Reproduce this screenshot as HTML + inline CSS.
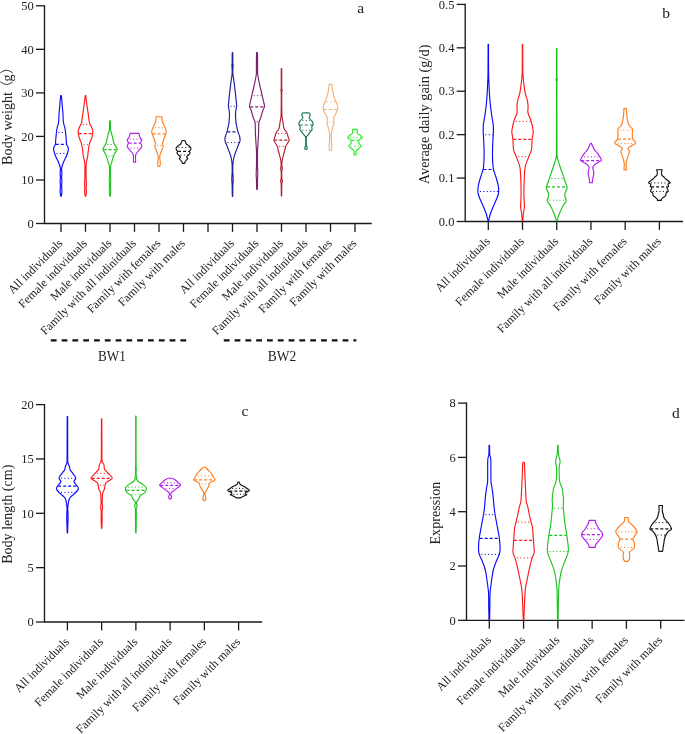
<!DOCTYPE html>
<html><head><meta charset="utf-8"><style>
html,body{margin:0;padding:0;background:#fff;overflow:hidden;}
svg{display:block;will-change:transform;}
text{font-family:"Liberation Serif", serif;}
</style></head><body>
<svg width="685" height="734" viewBox="0 0 685 734">
<rect width="685" height="734" fill="#fff"/>
<path d="M44.5 5.2 V223.5 H371.8" fill="none" stroke="#1a1a1a" stroke-width="1.35"/>
<line x1="36" y1="223.5" x2="44.5" y2="223.5" stroke="#1a1a1a" stroke-width="1.3"/>
<text x="33.7" y="227.7" text-anchor="end" font-size="12.5" fill="#222">0</text>
<line x1="36" y1="179.96" x2="44.5" y2="179.96" stroke="#1a1a1a" stroke-width="1.3"/>
<text x="33.7" y="184.16" text-anchor="end" font-size="12.5" fill="#222">10</text>
<line x1="36" y1="136.42" x2="44.5" y2="136.42" stroke="#1a1a1a" stroke-width="1.3"/>
<text x="33.7" y="140.62" text-anchor="end" font-size="12.5" fill="#222">20</text>
<line x1="36" y1="92.88" x2="44.5" y2="92.88" stroke="#1a1a1a" stroke-width="1.3"/>
<text x="33.7" y="97.08" text-anchor="end" font-size="12.5" fill="#222">30</text>
<line x1="36" y1="49.34" x2="44.5" y2="49.34" stroke="#1a1a1a" stroke-width="1.3"/>
<text x="33.7" y="53.54" text-anchor="end" font-size="12.5" fill="#222">40</text>
<line x1="36" y1="5.8" x2="44.5" y2="5.8" stroke="#1a1a1a" stroke-width="1.3"/>
<text x="33.7" y="10" text-anchor="end" font-size="12.5" fill="#222">50</text>
<line x1="61" y1="223.5" x2="61" y2="231.9" stroke="#1a1a1a" stroke-width="1.3"/>
<line x1="85.5" y1="223.5" x2="85.5" y2="231.9" stroke="#1a1a1a" stroke-width="1.3"/>
<line x1="110" y1="223.5" x2="110" y2="231.9" stroke="#1a1a1a" stroke-width="1.3"/>
<line x1="134.5" y1="223.5" x2="134.5" y2="231.9" stroke="#1a1a1a" stroke-width="1.3"/>
<line x1="159" y1="223.5" x2="159" y2="231.9" stroke="#1a1a1a" stroke-width="1.3"/>
<line x1="183.5" y1="223.5" x2="183.5" y2="231.9" stroke="#1a1a1a" stroke-width="1.3"/>
<line x1="208" y1="223.5" x2="208" y2="231.9" stroke="#1a1a1a" stroke-width="1.3"/>
<line x1="232.5" y1="223.5" x2="232.5" y2="231.9" stroke="#1a1a1a" stroke-width="1.3"/>
<line x1="257" y1="223.5" x2="257" y2="231.9" stroke="#1a1a1a" stroke-width="1.3"/>
<line x1="281.5" y1="223.5" x2="281.5" y2="231.9" stroke="#1a1a1a" stroke-width="1.3"/>
<line x1="306" y1="223.5" x2="306" y2="231.9" stroke="#1a1a1a" stroke-width="1.3"/>
<line x1="330.5" y1="223.5" x2="330.5" y2="231.9" stroke="#1a1a1a" stroke-width="1.3"/>
<line x1="355" y1="223.5" x2="355" y2="231.9" stroke="#1a1a1a" stroke-width="1.3"/>
<text transform="translate(63.4 243.9) rotate(-45)" text-anchor="end" font-size="12.0" fill="#222">All individuals</text>
<text transform="translate(87.9 243.9) rotate(-45)" text-anchor="end" font-size="12.0" fill="#222">Female individuals</text>
<text transform="translate(112.4 243.9) rotate(-45)" text-anchor="end" font-size="12.0" fill="#222">Male individuals</text>
<text transform="translate(136.9 243.9) rotate(-45)" text-anchor="end" font-size="12.0" fill="#222">Family with all indiniduals</text>
<text transform="translate(161.4 243.9) rotate(-45)" text-anchor="end" font-size="12.0" fill="#222">Family with females</text>
<text transform="translate(185.9 243.9) rotate(-45)" text-anchor="end" font-size="12.0" fill="#222">Family with males</text>
<text transform="translate(234.9 243.9) rotate(-45)" text-anchor="end" font-size="12.0" fill="#222">All individuals</text>
<text transform="translate(259.4 243.9) rotate(-45)" text-anchor="end" font-size="12.0" fill="#222">Female individuals</text>
<text transform="translate(283.9 243.9) rotate(-45)" text-anchor="end" font-size="12.0" fill="#222">Male individuals</text>
<text transform="translate(308.4 243.9) rotate(-45)" text-anchor="end" font-size="12.0" fill="#222">Family with all indiniduals</text>
<text transform="translate(332.9 243.9) rotate(-45)" text-anchor="end" font-size="12.0" fill="#222">Family with females</text>
<text transform="translate(357.4 243.9) rotate(-45)" text-anchor="end" font-size="12.0" fill="#222">Family with males</text>
<text transform="translate(11.8 164.9) rotate(-90)" font-size="14.2" fill="#222">Body weight</text>
<text transform="translate(11.8 81.6) rotate(-90)" font-size="14.2" fill="#222">g</text>
<path d="M0.3 72.9 Q6.5 67.6 12.7 72.9" fill="none" stroke="#2a2a2a" stroke-width="0.95"/>
<path d="M0.3 81.7 Q6.5 87.1 12.7 81.9" fill="none" stroke="#2a2a2a" stroke-width="0.95"/>
<path d="M61.3 95.6 C61.38 96.33 61.65 98.35 61.8 100 C61.95 101.65 62 103.08 62.2 105.5 C62.4 107.92 62.83 112.08 63 114.5 C63.17 116.92 63.07 118.38 63.2 120 C63.33 121.62 63.52 122.87 63.8 124.2 C64.08 125.53 64.62 126.7 64.9 128 C65.18 129.3 65.32 130.5 65.5 132 C65.68 133.5 65.87 135.67 66 137 C66.13 138.33 66.2 138.77 66.3 140 C66.4 141.23 66.35 143.32 66.6 144.4 C66.85 145.48 67.5 145.73 67.8 146.5 C68.1 147.27 68.35 148.25 68.4 149 C68.45 149.75 68.27 150.25 68.1 151 C67.93 151.75 67.8 152.37 67.4 153.5 C67 154.63 66.37 156.3 65.7 157.8 C65.03 159.3 64.05 160.92 63.4 162.5 C62.75 164.08 62.1 166.05 61.8 167.3 C61.5 168.55 61.58 168.95 61.6 170 C61.62 171.05 61.9 172.43 61.9 173.6 C61.9 174.77 61.6 175.68 61.6 177 C61.6 178.32 61.9 180 61.9 181.5 C61.9 183 61.6 184.28 61.6 186 C61.6 187.72 61.95 190.12 61.9 191.8 C61.85 193.48 61.4 195.38 61.3 196.1 L60.7 196.1 C60.6 195.38 60.15 193.48 60.1 191.8 C60.05 190.12 60.4 187.72 60.4 186 C60.4 184.28 60.1 183 60.1 181.5 C60.1 180 60.4 178.32 60.4 177 C60.4 175.68 60.1 174.77 60.1 173.6 C60.1 172.43 60.38 171.05 60.4 170 C60.42 168.95 60.5 168.55 60.2 167.3 C59.9 166.05 59.25 164.08 58.6 162.5 C57.95 160.92 56.97 159.3 56.3 157.8 C55.63 156.3 55 154.63 54.6 153.5 C54.2 152.37 54.07 151.75 53.9 151 C53.73 150.25 53.55 149.75 53.6 149 C53.65 148.25 53.9 147.27 54.2 146.5 C54.5 145.73 55.15 145.48 55.4 144.4 C55.65 143.32 55.6 141.23 55.7 140 C55.8 138.77 55.87 138.33 56 137 C56.13 135.67 56.32 133.5 56.5 132 C56.68 130.5 56.82 129.3 57.1 128 C57.38 126.7 57.92 125.53 58.2 124.2 C58.48 122.87 58.67 121.62 58.8 120 C58.93 118.38 58.83 116.92 59 114.5 C59.17 112.08 59.6 107.92 59.8 105.5 C60 103.08 60.05 101.65 60.2 100 C60.35 98.35 60.62 96.33 60.7 95.6 Z" fill="none" stroke="#0a0aff" stroke-width="1.15" stroke-linejoin="round"/>
<line x1="56.85" y1="132.5" x2="65.15" y2="132.5" stroke="#0a0aff" stroke-width="1" stroke-dasharray="1.1 2.3" stroke-dashoffset="-1.5"/>
<line x1="55.8" y1="144.4" x2="66.2" y2="144.4" stroke="#0a0aff" stroke-width="1.2" stroke-dasharray="3 2"/>
<line x1="54.97" y1="153.4" x2="67.03" y2="153.4" stroke="#0a0aff" stroke-width="1" stroke-dasharray="1.1 2.3" stroke-dashoffset="-1.5"/>
<path d="M85.8 95.5 C85.88 96.25 86.07 98.08 86.3 100 C86.53 101.92 86.87 104.58 87.2 107 C87.53 109.42 88 112.33 88.3 114.5 C88.6 116.67 88.77 118.5 89 120 C89.23 121.5 89.27 122.3 89.7 123.5 C90.13 124.7 91.08 125.95 91.6 127.2 C92.12 128.45 92.63 129.87 92.8 131 C92.97 132.13 92.73 133 92.6 134 C92.47 135 92.28 136 92 137 C91.72 138 91.23 139.17 90.9 140 C90.57 140.83 90.27 141.25 90 142 C89.73 142.75 89.57 143.18 89.3 144.5 C89.03 145.82 88.67 147.95 88.4 149.9 C88.13 151.85 88 154.35 87.7 156.2 C87.4 158.05 86.87 159.42 86.6 161 C86.33 162.58 86.18 163.87 86.1 165.7 C86.02 167.53 86.1 169.95 86.1 172 C86.1 174.05 86.05 176.17 86.1 178 C86.15 179.83 86.38 181.33 86.4 183 C86.42 184.67 86.2 186.5 86.2 188 C86.2 189.5 86.47 190.65 86.4 192 C86.33 193.35 85.9 195.42 85.8 196.1 L85.2 196.1 C85.1 195.42 84.67 193.35 84.6 192 C84.53 190.65 84.8 189.5 84.8 188 C84.8 186.5 84.58 184.67 84.6 183 C84.62 181.33 84.85 179.83 84.9 178 C84.95 176.17 84.9 174.05 84.9 172 C84.9 169.95 84.98 167.53 84.9 165.7 C84.82 163.87 84.67 162.58 84.4 161 C84.13 159.42 83.6 158.05 83.3 156.2 C83 154.35 82.87 151.85 82.6 149.9 C82.33 147.95 81.97 145.82 81.7 144.5 C81.43 143.18 81.27 142.75 81 142 C80.73 141.25 80.43 140.83 80.1 140 C79.77 139.17 79.28 138 79 137 C78.72 136 78.53 135 78.4 134 C78.27 133 78.03 132.13 78.2 131 C78.37 129.87 78.88 128.45 79.4 127.2 C79.92 125.95 80.87 124.7 81.3 123.5 C81.73 122.3 81.77 121.5 82 120 C82.23 118.5 82.4 116.67 82.7 114.5 C83 112.33 83.47 109.42 83.8 107 C84.13 104.58 84.47 101.92 84.7 100 C84.93 98.08 85.12 96.25 85.2 95.5 Z" fill="none" stroke="#ff1a1a" stroke-width="1.15" stroke-linejoin="round"/>
<line x1="81.24" y1="124.4" x2="89.76" y2="124.4" stroke="#ff1a1a" stroke-width="1" stroke-dasharray="1.1 2.3" stroke-dashoffset="-1.5"/>
<line x1="78.77" y1="133.6" x2="92.23" y2="133.6" stroke="#ff1a1a" stroke-width="1.2" stroke-dasharray="3 2"/>
<line x1="82.13" y1="144.7" x2="88.87" y2="144.7" stroke="#ff1a1a" stroke-width="1" stroke-dasharray="1.1 2.3" stroke-dashoffset="-1.5"/>
<path d="M110.3 120.7 C110.33 121.42 110.45 123.45 110.5 125 C110.55 126.55 110.32 128.2 110.6 130 C110.88 131.8 111.67 133.67 112.2 135.8 C112.73 137.93 113.27 141.1 113.8 142.8 C114.33 144.5 114.85 144.95 115.4 146 C115.95 147.05 117 148.18 117.1 149.1 C117.2 150.02 116.48 150.62 116 151.5 C115.52 152.38 114.87 152.77 114.2 154.4 C113.53 156.03 112.6 159.28 112 161.3 C111.4 163.32 110.85 164.22 110.6 166.5 C110.35 168.78 110.48 172.75 110.5 175 C110.52 177.25 110.7 178.33 110.7 180 C110.7 181.67 110.5 183.17 110.5 185 C110.5 186.83 110.73 189.13 110.7 191 C110.67 192.87 110.37 195.33 110.3 196.2 L109.7 196.2 C109.63 195.33 109.33 192.87 109.3 191 C109.27 189.13 109.5 186.83 109.5 185 C109.5 183.17 109.3 181.67 109.3 180 C109.3 178.33 109.48 177.25 109.5 175 C109.52 172.75 109.65 168.78 109.4 166.5 C109.15 164.22 108.6 163.32 108 161.3 C107.4 159.28 106.47 156.03 105.8 154.4 C105.13 152.77 104.48 152.38 104 151.5 C103.52 150.62 102.8 150.02 102.9 149.1 C103 148.18 104.05 147.05 104.6 146 C105.15 144.95 105.67 144.5 106.2 142.8 C106.73 141.1 107.27 137.93 107.8 135.8 C108.33 133.67 109.12 131.8 109.4 130 C109.68 128.2 109.45 126.55 109.5 125 C109.55 123.45 109.67 121.42 109.7 120.7 Z" fill="none" stroke="#1ec41e" stroke-width="1.15" stroke-linejoin="round"/>
<line x1="105.75" y1="144.5" x2="114.25" y2="144.5" stroke="#1ec41e" stroke-width="1" stroke-dasharray="1.1 2.3" stroke-dashoffset="-1.5"/>
<line x1="103.58" y1="149.7" x2="116.42" y2="149.7" stroke="#1ec41e" stroke-width="1.2" stroke-dasharray="3 2"/>
<line x1="106.74" y1="156.1" x2="113.26" y2="156.1" stroke="#1ec41e" stroke-width="1" stroke-dasharray="1.1 2.3" stroke-dashoffset="-1.5"/>
<path d="M138.8 133.3 C138.88 133.58 139.13 134.38 139.3 135 C139.47 135.62 139.38 136.18 139.8 137 C140.22 137.82 141.58 139.15 141.8 139.9 C142.02 140.65 141.28 140.92 141.1 141.5 C140.92 142.08 140.58 142.6 140.7 143.4 C140.82 144.2 142 145.25 141.8 146.3 C141.6 147.35 140.38 148.55 139.5 149.7 C138.62 150.85 137.15 152.23 136.5 153.2 C135.85 154.17 135.77 154.7 135.6 155.5 C135.43 156.3 135.5 157.08 135.5 158 C135.5 158.92 135.6 160.3 135.6 161 C135.6 161.7 135.52 162 135.5 162.2 L133.5 162.2 C133.48 162 133.4 161.7 133.4 161 C133.4 160.3 133.5 158.92 133.5 158 C133.5 157.08 133.57 156.3 133.4 155.5 C133.23 154.7 133.15 154.17 132.5 153.2 C131.85 152.23 130.38 150.85 129.5 149.7 C128.62 148.55 127.4 147.35 127.2 146.3 C127 145.25 128.18 144.2 128.3 143.4 C128.42 142.6 128.08 142.08 127.9 141.5 C127.72 140.92 126.98 140.65 127.2 139.9 C127.42 139.15 128.78 137.82 129.2 137 C129.62 136.18 129.53 135.62 129.7 135 C129.87 134.38 130.12 133.58 130.2 133.3 Z" fill="none" stroke="#b21fe8" stroke-width="1.15" stroke-linejoin="round"/>
<line x1="128.15" y1="139.1" x2="140.85" y2="139.1" stroke="#b21fe8" stroke-width="1" stroke-dasharray="1.1 2.3" stroke-dashoffset="-1.5"/>
<line x1="128.64" y1="143.1" x2="140.36" y2="143.1" stroke="#b21fe8" stroke-width="1.2" stroke-dasharray="3 2"/>
<line x1="128.75" y1="148" x2="140.25" y2="148" stroke="#b21fe8" stroke-width="1" stroke-dasharray="1.1 2.3" stroke-dashoffset="-1.5"/>
<path d="M162 116.7 C162 117.17 161.95 118.7 162 119.5 C162.05 120.3 162.05 120.7 162.3 121.5 C162.55 122.3 163.02 123.22 163.5 124.3 C163.98 125.38 164.75 126.88 165.2 128 C165.65 129.12 166.1 130.02 166.2 131 C166.3 131.98 166.17 132.63 165.8 133.9 C165.43 135.17 164.53 137.1 164 138.6 C163.47 140.1 162.77 141.75 162.6 142.9 C162.43 144.05 162.93 144.78 163 145.5 C163.07 146.22 163.32 146.12 163 147.2 C162.68 148.28 161.63 150.57 161.1 152 C160.57 153.43 160 154.63 159.8 155.8 C159.6 156.97 159.82 157.73 159.9 159 C159.98 160.27 160.3 162.18 160.3 163.4 C160.3 164.62 159.97 165.82 159.9 166.3 L158.1 166.3 C158.03 165.82 157.7 164.62 157.7 163.4 C157.7 162.18 158.02 160.27 158.1 159 C158.18 157.73 158.4 156.97 158.2 155.8 C158 154.63 157.43 153.43 156.9 152 C156.37 150.57 155.32 148.28 155 147.2 C154.68 146.12 154.93 146.22 155 145.5 C155.07 144.78 155.57 144.05 155.4 142.9 C155.23 141.75 154.53 140.1 154 138.6 C153.47 137.1 152.57 135.17 152.2 133.9 C151.83 132.63 151.7 131.98 151.8 131 C151.9 130.02 152.35 129.12 152.8 128 C153.25 126.88 154.02 125.38 154.5 124.3 C154.98 123.22 155.45 122.3 155.7 121.5 C155.95 120.7 155.95 120.3 156 119.5 C156.05 118.7 156 117.17 156 116.7 Z" fill="none" stroke="#ff7f1e" stroke-width="1.15" stroke-linejoin="round"/>
<line x1="153.34" y1="127.7" x2="164.66" y2="127.7" stroke="#ff7f1e" stroke-width="1" stroke-dasharray="1.1 2.3" stroke-dashoffset="-1.5"/>
<line x1="152.6" y1="133.9" x2="165.4" y2="133.9" stroke="#ff7f1e" stroke-width="1.2" stroke-dasharray="3 2"/>
<line x1="155.4" y1="145.5" x2="162.6" y2="145.5" stroke="#ff7f1e" stroke-width="1" stroke-dasharray="1.1 2.3" stroke-dashoffset="-1.5"/>
<path d="M184.8 140.5 C184.9 140.7 185.13 141.1 185.4 141.7 C185.67 142.3 185.82 143.43 186.4 144.1 C186.98 144.77 188.22 145.17 188.9 145.7 C189.58 146.23 190.17 146.77 190.5 147.3 C190.83 147.83 190.97 148.38 190.9 148.9 C190.83 149.42 190.37 149.98 190.1 150.4 C189.83 150.82 189.3 151 189.3 151.4 C189.3 151.8 190.13 152.3 190.1 152.8 C190.07 153.3 189.57 153.87 189.1 154.4 C188.63 154.93 187.72 155.53 187.3 156 C186.88 156.47 186.53 156.78 186.6 157.2 C186.67 157.62 187.77 157.98 187.7 158.5 C187.63 159.02 186.65 159.73 186.2 160.3 C185.75 160.87 185.25 161.4 185 161.9 C184.75 162.4 184.75 163.07 184.7 163.3 L182.3 163.3 C182.25 163.07 182.25 162.4 182 161.9 C181.75 161.4 181.25 160.87 180.8 160.3 C180.35 159.73 179.37 159.02 179.3 158.5 C179.23 157.98 180.33 157.62 180.4 157.2 C180.47 156.78 180.12 156.47 179.7 156 C179.28 155.53 178.37 154.93 177.9 154.4 C177.43 153.87 176.93 153.3 176.9 152.8 C176.87 152.3 177.7 151.8 177.7 151.4 C177.7 151 177.17 150.82 176.9 150.4 C176.63 149.98 176.17 149.42 176.1 148.9 C176.03 148.38 176.17 147.83 176.5 147.3 C176.83 146.77 177.42 146.23 178.1 145.7 C178.78 145.17 180.02 144.77 180.6 144.1 C181.18 143.43 181.33 142.3 181.6 141.7 C181.87 141.1 182.1 140.7 182.2 140.5 Z" fill="none" stroke="#111111" stroke-width="1.15" stroke-linejoin="round"/>
<line x1="176.88" y1="147.4" x2="190.12" y2="147.4" stroke="#111111" stroke-width="1" stroke-dasharray="1.1 2.3" stroke-dashoffset="-1.5"/>
<line x1="178.1" y1="151.4" x2="188.9" y2="151.4" stroke="#111111" stroke-width="1.2" stroke-dasharray="3 2"/>
<line x1="178.97" y1="155" x2="188.03" y2="155" stroke="#111111" stroke-width="1" stroke-dasharray="1.1 2.3" stroke-dashoffset="-1.5"/>
<path d="M232.7 52.6 C232.72 53 232.78 53.43 232.8 55 C232.82 56.57 232.75 60.22 232.8 62 C232.85 63.78 233.1 64.37 233.1 65.7 C233.1 67.03 232.83 68.53 232.8 70 C232.78 71.47 232.72 72.3 232.95 74.5 C233.18 76.7 233.77 79.93 234.2 83.2 C234.62 86.47 235.13 90.83 235.5 94.1 C235.87 97.37 236.22 100.8 236.4 102.8 C236.58 104.8 236.68 104.9 236.6 106.1 C236.52 107.3 236.07 108.92 235.9 110 C235.73 111.08 235.67 111.77 235.6 112.6 C235.53 113.43 235.45 113.53 235.5 115 C235.55 116.47 235.73 119.67 235.9 121.4 C236.07 123.13 236.15 123.67 236.5 125.4 C236.85 127.13 237.5 130.03 238 131.8 C238.5 133.57 239.15 134.65 239.5 136 C239.85 137.35 240.12 138.82 240.1 139.9 C240.08 140.98 239.92 141.05 239.4 142.5 C238.88 143.95 237.88 146.23 237 148.6 C236.12 150.97 234.78 154.18 234.1 156.7 C233.42 159.22 233.17 161.15 232.95 163.7 C232.73 166.25 232.78 169.95 232.8 172 C232.83 174.05 233.03 174.67 233.1 176 C233.17 177.33 233.23 178.67 233.2 180 C233.17 181.33 232.97 182.33 232.9 184 C232.83 185.67 232.83 187.95 232.8 190 C232.77 192.05 232.72 195.25 232.7 196.3 L232.3 196.3 C232.28 195.25 232.23 192.05 232.2 190 C232.17 187.95 232.17 185.67 232.1 184 C232.03 182.33 231.83 181.33 231.8 180 C231.77 178.67 231.83 177.33 231.9 176 C231.97 174.67 232.17 174.05 232.2 172 C232.22 169.95 232.27 166.25 232.05 163.7 C231.83 161.15 231.58 159.22 230.9 156.7 C230.22 154.18 228.88 150.97 228 148.6 C227.12 146.23 226.12 143.95 225.6 142.5 C225.08 141.05 224.92 140.98 224.9 139.9 C224.88 138.82 225.15 137.35 225.5 136 C225.85 134.65 226.5 133.57 227 131.8 C227.5 130.03 228.15 127.13 228.5 125.4 C228.85 123.67 228.93 123.13 229.1 121.4 C229.27 119.67 229.45 116.47 229.5 115 C229.55 113.53 229.47 113.43 229.4 112.6 C229.33 111.77 229.27 111.08 229.1 110 C228.93 108.92 228.48 107.3 228.4 106.1 C228.32 104.9 228.42 104.8 228.6 102.8 C228.78 100.8 229.13 97.37 229.5 94.1 C229.87 90.83 230.38 86.47 230.8 83.2 C231.23 79.93 231.82 76.7 232.05 74.5 C232.28 72.3 232.22 71.47 232.2 70 C232.17 68.53 231.9 67.03 231.9 65.7 C231.9 64.37 232.15 63.78 232.2 62 C232.25 60.22 232.18 56.57 232.2 55 C232.22 53.43 232.28 53 232.3 52.6 Z" fill="none" stroke="#1f1f9c" stroke-width="1.15" stroke-linejoin="round"/>
<line x1="228.84" y1="106.3" x2="236.16" y2="106.3" stroke="#1f1f9c" stroke-width="1" stroke-dasharray="1.1 2.3" stroke-dashoffset="-1.5"/>
<line x1="227.4" y1="131.8" x2="237.6" y2="131.8" stroke="#1f1f9c" stroke-width="1.2" stroke-dasharray="3 2"/>
<line x1="226" y1="142.5" x2="239" y2="142.5" stroke="#1f1f9c" stroke-width="1" stroke-dasharray="1.1 2.3" stroke-dashoffset="-1.5"/>
<path d="M257.4 52.6 C257.42 53 257.47 53.43 257.5 55 C257.53 56.57 257.58 59.5 257.6 62 C257.62 64.5 257.58 67.92 257.6 70 C257.62 72.08 257.42 72.3 257.7 74.5 C257.98 76.7 258.6 79.93 259.3 83.2 C260 86.47 261.25 91.3 261.9 94.1 C262.55 96.9 262.77 98 263.2 100 C263.63 102 264.53 104.43 264.5 106.1 C264.47 107.77 263.55 108.35 263 110 C262.45 111.65 261.6 114.67 261.2 116 C260.8 117.33 260.97 117 260.6 118 C260.23 119 259.32 120.67 259 122 C258.68 123.33 258.77 124.27 258.7 126 C258.63 127.73 258.68 130.07 258.6 132.4 C258.52 134.73 258.32 137.88 258.2 140 C258.08 142.12 258.02 143.1 257.9 145.1 C257.78 147.1 257.57 148.68 257.5 152 C257.43 155.32 257.47 161.83 257.5 165 C257.53 168.17 257.65 169.3 257.7 171 C257.75 172.7 257.83 173.7 257.8 175.2 C257.77 176.7 257.55 178.37 257.5 180 C257.45 181.63 257.53 183.45 257.5 185 C257.47 186.55 257.33 188.58 257.3 189.3 L256.7 189.3 C256.67 188.58 256.53 186.55 256.5 185 C256.47 183.45 256.55 181.63 256.5 180 C256.45 178.37 256.23 176.7 256.2 175.2 C256.17 173.7 256.25 172.7 256.3 171 C256.35 169.3 256.47 168.17 256.5 165 C256.53 161.83 256.57 155.32 256.5 152 C256.43 148.68 256.22 147.1 256.1 145.1 C255.98 143.1 255.92 142.12 255.8 140 C255.68 137.88 255.48 134.73 255.4 132.4 C255.32 130.07 255.37 127.73 255.3 126 C255.23 124.27 255.32 123.33 255 122 C254.68 120.67 253.77 119 253.4 118 C253.03 117 253.2 117.33 252.8 116 C252.4 114.67 251.55 111.65 251 110 C250.45 108.35 249.53 107.77 249.5 106.1 C249.47 104.43 250.37 102 250.8 100 C251.23 98 251.45 96.9 252.1 94.1 C252.75 91.3 254 86.47 254.7 83.2 C255.4 79.93 256.02 76.7 256.3 74.5 C256.58 72.3 256.38 72.08 256.4 70 C256.42 67.92 256.38 64.5 256.4 62 C256.42 59.5 256.47 56.57 256.5 55 C256.53 53.43 256.58 53 256.6 52.6 Z" fill="none" stroke="#7a1f6c" stroke-width="1.15" stroke-linejoin="round"/>
<line x1="252.15" y1="95.7" x2="261.85" y2="95.7" stroke="#7a1f6c" stroke-width="1" stroke-dasharray="1.1 2.3" stroke-dashoffset="-1.5"/>
<line x1="250.21" y1="106.9" x2="263.79" y2="106.9" stroke="#7a1f6c" stroke-width="1.2" stroke-dasharray="3 2"/>
<line x1="255.28" y1="121.7" x2="258.72" y2="121.7" stroke="#7a1f6c" stroke-width="1" stroke-dasharray="1.1 2.3" stroke-dashoffset="-1.5"/>
<path d="M281.7 68.5 C281.71 69.08 281.74 68.75 281.75 72 C281.76 75.25 281.66 84.92 281.75 88 C281.84 91.08 282.3 89.67 282.3 90.5 C282.3 91.33 281.83 89.75 281.75 93 C281.67 96.25 281.76 106.08 281.8 110 C281.84 113.92 281.8 114.45 282 116.5 C282.2 118.55 282.75 120.67 283 122.3 C283.25 123.93 283.25 125.08 283.5 126.3 C283.75 127.52 284 128.63 284.5 129.6 C285 130.57 285.88 130.87 286.5 132.1 C287.12 133.33 287.77 135.65 288.2 137 C288.63 138.35 289.23 139.12 289.1 140.2 C288.97 141.28 288 142.4 287.4 143.5 C286.8 144.6 285.92 145.72 285.5 146.8 C285.08 147.88 285.2 148.78 284.9 150 C284.6 151.22 284.1 152.6 283.7 154.1 C283.3 155.6 282.8 157.5 282.5 159 C282.2 160.5 282 161.93 281.9 163.1 C281.8 164.27 281.82 165.08 281.9 166 C281.98 166.92 282.42 167.77 282.4 168.6 C282.38 169.43 281.9 169.43 281.8 171 C281.7 172.57 281.7 176.33 281.8 178 C281.9 179.67 282.4 180 282.4 181 C282.4 182 281.92 181.53 281.8 184 C281.68 186.47 281.72 193.83 281.7 195.8 L281.3 195.8 C281.28 193.83 281.32 186.47 281.2 184 C281.08 181.53 280.6 182 280.6 181 C280.6 180 281.1 179.67 281.2 178 C281.3 176.33 281.3 172.57 281.2 171 C281.1 169.43 280.62 169.43 280.6 168.6 C280.58 167.77 281.02 166.92 281.1 166 C281.18 165.08 281.2 164.27 281.1 163.1 C281 161.93 280.8 160.5 280.5 159 C280.2 157.5 279.7 155.6 279.3 154.1 C278.9 152.6 278.4 151.22 278.1 150 C277.8 148.78 277.92 147.88 277.5 146.8 C277.08 145.72 276.2 144.6 275.6 143.5 C275 142.4 274.03 141.28 273.9 140.2 C273.77 139.12 274.37 138.35 274.8 137 C275.23 135.65 275.88 133.33 276.5 132.1 C277.12 130.87 278 130.57 278.5 129.6 C279 128.63 279.25 127.52 279.5 126.3 C279.75 125.08 279.75 123.93 280 122.3 C280.25 120.67 280.8 118.55 281 116.5 C281.2 114.45 281.16 113.92 281.2 110 C281.24 106.08 281.33 96.25 281.25 93 C281.17 89.75 280.7 91.33 280.7 90.5 C280.7 89.67 281.16 91.08 281.25 88 C281.34 84.92 281.24 75.25 281.25 72 C281.26 68.75 281.29 69.08 281.3 68.5 Z" fill="none" stroke="#b0202c" stroke-width="1.15" stroke-linejoin="round"/>
<line x1="276.41" y1="133.5" x2="286.59" y2="133.5" stroke="#b0202c" stroke-width="1" stroke-dasharray="1.1 2.3" stroke-dashoffset="-1.5"/>
<line x1="274.33" y1="140.1" x2="288.67" y2="140.1" stroke="#b0202c" stroke-width="1.2" stroke-dasharray="3 2"/>
<line x1="277.67" y1="146.4" x2="285.33" y2="146.4" stroke="#b0202c" stroke-width="1" stroke-dasharray="1.1 2.3" stroke-dashoffset="-1.5"/>
<path d="M308.8 112.9 C308.97 113 309.58 113.15 309.8 113.5 C310.02 113.85 310.15 114.42 310.1 115 C310.05 115.58 309.63 116.42 309.5 117 C309.37 117.58 308.97 117.92 309.3 118.5 C309.63 119.08 310.85 119.67 311.5 120.5 C312.15 121.33 313.12 122.53 313.2 123.5 C313.28 124.47 312.23 125.55 312 126.3 C311.77 127.05 311.77 127.45 311.8 128 C311.83 128.55 312.4 129.02 312.2 129.6 C312 130.18 311.13 130.82 310.6 131.5 C310.07 132.18 309.57 132.95 309 133.7 C308.43 134.45 307.63 135.37 307.2 136 C306.77 136.63 306.54 136 306.4 137.5 C306.26 139 306.27 143.5 306.35 145 C306.43 146.5 306.76 146 306.9 146.5 C307.04 147 307.22 147.53 307.2 148 C307.18 148.47 306.87 149.08 306.8 149.3 L305.2 149.3 C305.13 149.08 304.82 148.47 304.8 148 C304.78 147.53 304.96 147 305.1 146.5 C305.24 146 305.57 146.5 305.65 145 C305.73 143.5 305.74 139 305.6 137.5 C305.46 136 305.23 136.63 304.8 136 C304.37 135.37 303.57 134.45 303 133.7 C302.43 132.95 301.93 132.18 301.4 131.5 C300.87 130.82 300 130.18 299.8 129.6 C299.6 129.02 300.17 128.55 300.2 128 C300.23 127.45 300.23 127.05 300 126.3 C299.77 125.55 298.72 124.47 298.8 123.5 C298.88 122.53 299.85 121.33 300.5 120.5 C301.15 119.67 302.37 119.08 302.7 118.5 C303.03 117.92 302.63 117.58 302.5 117 C302.37 116.42 301.95 115.58 301.9 115 C301.85 114.42 301.98 113.85 302.2 113.5 C302.42 113.15 303.03 113 303.2 112.9 Z" fill="none" stroke="#1b7a4b" stroke-width="1.15" stroke-linejoin="round"/>
<line x1="300.9" y1="120.5" x2="311.1" y2="120.5" stroke="#1b7a4b" stroke-width="1" stroke-dasharray="1.1 2.3" stroke-dashoffset="-1.5"/>
<line x1="299.84" y1="125" x2="312.16" y2="125" stroke="#1b7a4b" stroke-width="1.2" stroke-dasharray="3 2"/>
<line x1="300.79" y1="130.3" x2="311.21" y2="130.3" stroke="#1b7a4b" stroke-width="1" stroke-dasharray="1.1 2.3" stroke-dashoffset="-1.5"/>
<path d="M331.8 84.3 C331.85 84.75 331.98 86.05 332.1 87 C332.22 87.95 332.3 88.83 332.5 90 C332.7 91.17 332.97 92.63 333.3 94 C333.63 95.37 334.13 97.03 334.5 98.2 C334.87 99.37 335.08 100.03 335.5 101 C335.92 101.97 336.62 102.73 337 104 C337.38 105.27 337.8 107.43 337.8 108.6 C337.8 109.77 337.38 110.03 337 111 C336.62 111.97 335.98 113.4 335.5 114.4 C335.02 115.4 334.4 116.23 334.1 117 C333.8 117.77 333.72 118.08 333.7 119 C333.68 119.92 334.03 121.5 334 122.5 C333.97 123.5 333.75 124.03 333.5 125 C333.25 125.97 332.8 127.13 332.5 128.3 C332.2 129.47 331.9 130.85 331.7 132 C331.5 133.15 331.35 133.87 331.3 135.2 C331.25 136.53 331.32 138.07 331.4 140 C331.48 141.93 331.75 145.22 331.8 146.8 C331.85 148.38 331.75 148.88 331.7 149.5 C331.65 150.12 331.53 150.33 331.5 150.5 L329.5 150.5 C329.47 150.33 329.35 150.12 329.3 149.5 C329.25 148.88 329.15 148.38 329.2 146.8 C329.25 145.22 329.52 141.93 329.6 140 C329.68 138.07 329.75 136.53 329.7 135.2 C329.65 133.87 329.5 133.15 329.3 132 C329.1 130.85 328.8 129.47 328.5 128.3 C328.2 127.13 327.75 125.97 327.5 125 C327.25 124.03 327.03 123.5 327 122.5 C326.97 121.5 327.32 119.92 327.3 119 C327.28 118.08 327.2 117.77 326.9 117 C326.6 116.23 325.98 115.4 325.5 114.4 C325.02 113.4 324.38 111.97 324 111 C323.62 110.03 323.2 109.77 323.2 108.6 C323.2 107.43 323.62 105.27 324 104 C324.38 102.73 325.08 101.97 325.5 101 C325.92 100.03 326.13 99.37 326.5 98.2 C326.87 97.03 327.37 95.37 327.7 94 C328.03 92.63 328.3 91.17 328.5 90 C328.7 88.83 328.78 87.95 328.9 87 C329.02 86.05 329.15 84.75 329.2 84.3 Z" fill="none" stroke="#f2b27a" stroke-width="1.15" stroke-linejoin="round"/>
<line x1="325.45" y1="101.9" x2="335.55" y2="101.9" stroke="#f2b27a" stroke-width="1" stroke-dasharray="1.1 2.3" stroke-dashoffset="-1.5"/>
<line x1="323.9" y1="109.5" x2="337.1" y2="109.5" stroke="#f2b27a" stroke-width="1.2" stroke-dasharray="3 2"/>
<line x1="327.45" y1="121.9" x2="333.55" y2="121.9" stroke="#f2b27a" stroke-width="1" stroke-dasharray="1.1 2.3" stroke-dashoffset="-1.5"/>
<path d="M357.3 129.4 C357.3 129.7 357.27 130.52 357.3 131.2 C357.33 131.88 357.02 132.83 357.5 133.5 C357.98 134.17 359.4 134.52 360.2 135.2 C361 135.88 362.27 136.95 362.3 137.6 C362.33 138.25 360.97 138.63 360.4 139.1 C359.83 139.57 359.12 139.67 358.9 140.4 C358.68 141.13 358.78 142.7 359.1 143.5 C359.42 144.3 360.48 144.7 360.8 145.2 C361.12 145.7 361.37 145.92 361 146.5 C360.63 147.08 359.35 148.05 358.6 148.7 C357.85 149.35 356.97 149.9 356.5 150.4 C356.03 150.9 355.85 151.12 355.8 151.7 C355.75 152.28 356.2 153.35 356.2 153.9 C356.2 154.45 355.87 154.82 355.8 155 L354.2 155 C354.13 154.82 353.8 154.45 353.8 153.9 C353.8 153.35 354.25 152.28 354.2 151.7 C354.15 151.12 353.97 150.9 353.5 150.4 C353.03 149.9 352.15 149.35 351.4 148.7 C350.65 148.05 349.37 147.08 349 146.5 C348.63 145.92 348.88 145.7 349.2 145.2 C349.52 144.7 350.58 144.3 350.9 143.5 C351.22 142.7 351.32 141.13 351.1 140.4 C350.88 139.67 350.17 139.57 349.6 139.1 C349.03 138.63 347.67 138.25 347.7 137.6 C347.73 136.95 349 135.88 349.8 135.2 C350.6 134.52 352.02 134.17 352.5 133.5 C352.98 132.83 352.67 131.88 352.7 131.2 C352.73 130.52 352.7 129.7 352.7 129.4 Z" fill="none" stroke="#22ee22" stroke-width="1.15" stroke-linejoin="round"/>
<line x1="348.36" y1="137.3" x2="361.64" y2="137.3" stroke="#22ee22" stroke-width="1" stroke-dasharray="1.1 2.3" stroke-dashoffset="-1.5"/>
<line x1="351.5" y1="140.4" x2="358.5" y2="140.4" stroke="#22ee22" stroke-width="1.2" stroke-dasharray="3 2"/>
<line x1="349.43" y1="146.3" x2="360.57" y2="146.3" stroke="#22ee22" stroke-width="1" stroke-dasharray="1.1 2.3" stroke-dashoffset="-1.5"/>
<text x="357.2" y="12.9" font-size="15.5" fill="#222">a</text>
<line x1="50.8" y1="340.4" x2="186.2" y2="340.4" stroke="#111" stroke-width="2.3" stroke-dasharray="5.8 5"/>
<line x1="223.8" y1="340.4" x2="356.3" y2="340.4" stroke="#111" stroke-width="2.3" stroke-dasharray="5.8 5"/>
<text x="98.0" y="361.0" font-size="14" textLength="27.8" lengthAdjust="spacingAndGlyphs" fill="#222">BW1</text>
<text x="267.8" y="361.0" font-size="14" textLength="28.4" lengthAdjust="spacingAndGlyphs" fill="#222">BW2</text>
<path d="M465.2 3.8 V221.5 H683" fill="none" stroke="#1a1a1a" stroke-width="1.35"/>
<line x1="456.7" y1="221.5" x2="465.2" y2="221.5" stroke="#1a1a1a" stroke-width="1.3"/>
<text x="454.4" y="225.7" text-anchor="end" font-size="12.5" fill="#222">0.0</text>
<line x1="456.7" y1="178.08" x2="465.2" y2="178.08" stroke="#1a1a1a" stroke-width="1.3"/>
<text x="454.4" y="182.28" text-anchor="end" font-size="12.5" fill="#222">0.1</text>
<line x1="456.7" y1="134.66" x2="465.2" y2="134.66" stroke="#1a1a1a" stroke-width="1.3"/>
<text x="454.4" y="138.86" text-anchor="end" font-size="12.5" fill="#222">0.2</text>
<line x1="456.7" y1="91.24" x2="465.2" y2="91.24" stroke="#1a1a1a" stroke-width="1.3"/>
<text x="454.4" y="95.44" text-anchor="end" font-size="12.5" fill="#222">0.3</text>
<line x1="456.7" y1="47.82" x2="465.2" y2="47.82" stroke="#1a1a1a" stroke-width="1.3"/>
<text x="454.4" y="52.02" text-anchor="end" font-size="12.5" fill="#222">0.4</text>
<line x1="456.7" y1="4.4" x2="465.2" y2="4.4" stroke="#1a1a1a" stroke-width="1.3"/>
<text x="454.4" y="8.6" text-anchor="end" font-size="12.5" fill="#222">0.5</text>
<line x1="488.3" y1="221.5" x2="488.3" y2="229.9" stroke="#1a1a1a" stroke-width="1.3"/>
<line x1="522.52" y1="221.5" x2="522.52" y2="229.9" stroke="#1a1a1a" stroke-width="1.3"/>
<line x1="556.74" y1="221.5" x2="556.74" y2="229.9" stroke="#1a1a1a" stroke-width="1.3"/>
<line x1="590.96" y1="221.5" x2="590.96" y2="229.9" stroke="#1a1a1a" stroke-width="1.3"/>
<line x1="625.18" y1="221.5" x2="625.18" y2="229.9" stroke="#1a1a1a" stroke-width="1.3"/>
<line x1="659.4" y1="221.5" x2="659.4" y2="229.9" stroke="#1a1a1a" stroke-width="1.3"/>
<text transform="translate(490.7 241.9) rotate(-45)" text-anchor="end" font-size="12.0" fill="#222">All individuals</text>
<text transform="translate(524.92 241.9) rotate(-45)" text-anchor="end" font-size="12.0" fill="#222">Female individuals</text>
<text transform="translate(559.14 241.9) rotate(-45)" text-anchor="end" font-size="12.0" fill="#222">Male individuals</text>
<text transform="translate(593.36 241.9) rotate(-45)" text-anchor="end" font-size="12.0" fill="#222">Family with all individuals</text>
<text transform="translate(627.58 241.9) rotate(-45)" text-anchor="end" font-size="12.0" fill="#222">Family with females</text>
<text transform="translate(661.8 241.9) rotate(-45)" text-anchor="end" font-size="12.0" fill="#222">Family with males</text>
<text transform="translate(428.6 184.2) rotate(-90)" font-size="14.3" fill="#222" textLength="139.6" lengthAdjust="spacing">Average daily gain (g/d)</text>
<path d="M488.5 44.3 C488.5 45.25 488.48 45.08 488.5 50 C488.52 54.92 488.55 68.8 488.6 73.8 C488.65 78.8 488.72 77.85 488.8 80 C488.88 82.15 489 84.5 489.1 86.7 C489.2 88.9 489.27 91.03 489.4 93.2 C489.53 95.37 489.72 97.55 489.9 99.7 C490.08 101.85 490.27 103.95 490.5 106.1 C490.73 108.25 491 110.45 491.3 112.6 C491.6 114.75 491.97 116.83 492.3 119 C492.63 121.17 493.12 123.47 493.3 125.6 C493.48 127.73 493.45 129.63 493.4 131.8 C493.35 133.97 493.15 135.3 493 138.6 C492.85 141.9 492.57 148.03 492.5 151.6 C492.43 155.17 492.53 157.85 492.6 160 C492.67 162.15 492.75 162.92 492.9 164.5 C493.05 166.08 492.97 167.33 493.5 169.5 C494.03 171.67 495.32 174.87 496.1 177.5 C496.88 180.13 497.77 183.15 498.2 185.3 C498.63 187.45 498.68 188.95 498.7 190.4 C498.72 191.85 498.6 192.7 498.3 194 C498 195.3 497.7 196.2 496.9 198.2 C496.1 200.2 494.58 203.4 493.5 206 C492.42 208.6 491.22 211.37 490.4 213.8 C489.58 216.23 488.9 219.47 488.6 220.6 L488 220.6 C487.7 219.47 487.02 216.23 486.2 213.8 C485.38 211.37 484.18 208.6 483.1 206 C482.02 203.4 480.5 200.2 479.7 198.2 C478.9 196.2 478.6 195.3 478.3 194 C478 192.7 477.88 191.85 477.9 190.4 C477.92 188.95 477.97 187.45 478.4 185.3 C478.83 183.15 479.72 180.13 480.5 177.5 C481.28 174.87 482.57 171.67 483.1 169.5 C483.63 167.33 483.55 166.08 483.7 164.5 C483.85 162.92 483.93 162.15 484 160 C484.07 157.85 484.17 155.17 484.1 151.6 C484.03 148.03 483.75 141.9 483.6 138.6 C483.45 135.3 483.25 133.97 483.2 131.8 C483.15 129.63 483.12 127.73 483.3 125.6 C483.48 123.47 483.97 121.17 484.3 119 C484.63 116.83 485 114.75 485.3 112.6 C485.6 110.45 485.87 108.25 486.1 106.1 C486.33 103.95 486.52 101.85 486.7 99.7 C486.88 97.55 487.07 95.37 487.2 93.2 C487.33 91.03 487.4 88.9 487.5 86.7 C487.6 84.5 487.72 82.15 487.8 80 C487.88 77.85 487.95 78.8 488 73.8 C488.05 68.8 488.08 54.92 488.1 50 C488.12 45.08 488.1 45.25 488.1 44.3 Z" fill="none" stroke="#0a0aff" stroke-width="1.15" stroke-linejoin="round"/>
<line x1="483.78" y1="134.8" x2="492.82" y2="134.8" stroke="#0a0aff" stroke-width="1" stroke-dasharray="1.1 2.3" stroke-dashoffset="-1.5"/>
<line x1="483.5" y1="169.5" x2="493.1" y2="169.5" stroke="#0a0aff" stroke-width="1.2" stroke-dasharray="3 2"/>
<line x1="478.42" y1="191.5" x2="498.18" y2="191.5" stroke="#0a0aff" stroke-width="1" stroke-dasharray="1.1 2.3" stroke-dashoffset="-1.5"/>
<path d="M522.72 44.3 C522.72 45.25 522.7 45.52 522.72 50 C522.74 54.48 522.74 66.53 522.82 71.2 C522.9 75.87 523.04 75.83 523.22 78 C523.4 80.17 523.59 81.67 523.92 84.2 C524.25 86.73 524.69 90.62 525.22 93.2 C525.75 95.78 526.64 97.55 527.12 99.7 C527.6 101.85 527.99 103.95 528.12 106.1 C528.25 108.25 527.54 110.45 527.92 112.6 C528.3 114.75 529.7 116.83 530.42 119 C531.14 121.17 531.75 123.47 532.22 125.6 C532.69 127.73 533.24 129.52 533.22 131.8 C533.2 134.08 532.4 136.35 532.12 139.3 C531.84 142.25 532.07 146.62 531.52 149.5 C530.97 152.38 529.84 153.87 528.82 156.6 C527.8 159.33 526.12 163.33 525.42 165.9 C524.72 168.47 524.82 169.73 524.62 172 C524.42 174.27 524.34 175.98 524.22 179.5 C524.1 183.02 523.94 189.68 523.92 193.1 C523.9 196.52 524.04 197.73 524.12 200 C524.2 202.27 524.54 204.45 524.42 206.7 C524.3 208.95 523.69 211.18 523.42 213.5 C523.15 215.82 522.92 219.42 522.82 220.6 L522.22 220.6 C522.12 219.42 521.89 215.82 521.62 213.5 C521.35 211.18 520.74 208.95 520.62 206.7 C520.5 204.45 520.84 202.27 520.92 200 C521 197.73 521.14 196.52 521.12 193.1 C521.1 189.68 520.94 183.02 520.82 179.5 C520.7 175.98 520.62 174.27 520.42 172 C520.22 169.73 520.32 168.47 519.62 165.9 C518.92 163.33 517.24 159.33 516.22 156.6 C515.2 153.87 514.07 152.38 513.52 149.5 C512.97 146.62 513.2 142.25 512.92 139.3 C512.64 136.35 511.84 134.08 511.82 131.8 C511.8 129.52 512.35 127.73 512.82 125.6 C513.29 123.47 513.9 121.17 514.62 119 C515.34 116.83 516.74 114.75 517.12 112.6 C517.5 110.45 516.79 108.25 516.92 106.1 C517.05 103.95 517.44 101.85 517.92 99.7 C518.4 97.55 519.29 95.78 519.82 93.2 C520.35 90.62 520.79 86.73 521.12 84.2 C521.45 81.67 521.64 80.17 521.82 78 C522 75.83 522.14 75.87 522.22 71.2 C522.3 66.53 522.3 54.48 522.32 50 C522.34 45.52 522.32 45.25 522.32 44.3 Z" fill="none" stroke="#ff1a1a" stroke-width="1.15" stroke-linejoin="round"/>
<line x1="514.37" y1="121.4" x2="530.67" y2="121.4" stroke="#ff1a1a" stroke-width="1" stroke-dasharray="1.1 2.3" stroke-dashoffset="-1.5"/>
<line x1="513.32" y1="139.3" x2="531.72" y2="139.3" stroke="#ff1a1a" stroke-width="1.2" stroke-dasharray="3 2"/>
<line x1="516.62" y1="156.6" x2="528.42" y2="156.6" stroke="#ff1a1a" stroke-width="1" stroke-dasharray="1.1 2.3" stroke-dashoffset="-1.5"/>
<path d="M556.94 48.5 C556.94 49.08 556.94 47.08 556.94 52 C556.94 56.92 556.86 73.32 556.94 78 C557.02 82.68 557.44 79.43 557.44 80.1 C557.44 80.77 557.02 75.35 556.94 82 C556.86 88.65 556.92 108.67 556.94 120 C556.96 131.33 556.99 143.87 557.04 150 C557.09 156.13 556.86 154.38 557.24 156.8 C557.62 159.22 558.39 161.48 559.34 164.5 C560.29 167.52 561.91 171.87 562.94 174.9 C563.97 177.93 564.84 180.55 565.54 182.7 C566.24 184.85 567.22 186.08 567.14 187.8 C567.06 189.52 565.39 191.48 565.04 193 C564.69 194.52 564.84 195.6 565.04 196.9 C565.24 198.2 566.59 199.28 566.24 200.8 C565.89 202.32 564.09 203.83 562.94 206 C561.79 208.17 560.32 211.33 559.34 213.8 C558.36 216.27 557.42 219.63 557.04 220.8 L556.44 220.8 C556.06 219.63 555.12 216.27 554.14 213.8 C553.16 211.33 551.69 208.17 550.54 206 C549.39 203.83 547.59 202.32 547.24 200.8 C546.89 199.28 548.24 198.2 548.44 196.9 C548.64 195.6 548.79 194.52 548.44 193 C548.09 191.48 546.42 189.52 546.34 187.8 C546.26 186.08 547.24 184.85 547.94 182.7 C548.64 180.55 549.51 177.93 550.54 174.9 C551.57 171.87 553.19 167.52 554.14 164.5 C555.09 161.48 555.86 159.22 556.24 156.8 C556.62 154.38 556.39 156.13 556.44 150 C556.49 143.87 556.52 131.33 556.54 120 C556.56 108.67 556.62 88.65 556.54 82 C556.46 75.35 556.04 80.77 556.04 80.1 C556.04 79.43 556.46 82.68 556.54 78 C556.62 73.32 556.54 56.92 556.54 52 C556.54 47.08 556.54 49.08 556.54 48.5 Z" fill="none" stroke="#1ec41e" stroke-width="1.15" stroke-linejoin="round"/>
<line x1="549.74" y1="178.5" x2="563.74" y2="178.5" stroke="#1ec41e" stroke-width="1" stroke-dasharray="1.1 2.3" stroke-dashoffset="-1.5"/>
<line x1="547.02" y1="186.9" x2="566.46" y2="186.9" stroke="#1ec41e" stroke-width="1.2" stroke-dasharray="3 2"/>
<line x1="547.82" y1="200.2" x2="565.66" y2="200.2" stroke="#1ec41e" stroke-width="1" stroke-dasharray="1.1 2.3" stroke-dashoffset="-1.5"/>
<path d="M591.46 143.4 C591.58 143.67 591.71 144 592.16 145 C592.61 146 593.39 148.15 594.16 149.4 C594.93 150.65 595.89 151.42 596.76 152.5 C597.63 153.58 598.66 154.82 599.36 155.9 C600.06 156.98 600.63 158.23 600.96 159 C601.29 159.77 601.69 160 601.36 160.5 C601.03 161 599.94 161.42 598.96 162 C597.98 162.58 596.41 163.3 595.46 164 C594.51 164.7 593.71 165.53 593.26 166.2 C592.81 166.87 592.73 167.28 592.76 168 C592.79 168.72 593.29 169.57 593.46 170.5 C593.63 171.43 593.79 172.6 593.76 173.6 C593.73 174.6 593.48 175.48 593.26 176.5 C593.04 177.52 592.61 178.67 592.46 179.7 C592.31 180.73 592.38 182.2 592.36 182.7 L589.56 182.7 C589.54 182.2 589.61 180.73 589.46 179.7 C589.31 178.67 588.88 177.52 588.66 176.5 C588.44 175.48 588.19 174.6 588.16 173.6 C588.13 172.6 588.29 171.43 588.46 170.5 C588.63 169.57 589.13 168.72 589.16 168 C589.19 167.28 589.11 166.87 588.66 166.2 C588.21 165.53 587.41 164.7 586.46 164 C585.51 163.3 583.94 162.58 582.96 162 C581.98 161.42 580.89 161 580.56 160.5 C580.23 160 580.63 159.77 580.96 159 C581.29 158.23 581.86 156.98 582.56 155.9 C583.26 154.82 584.29 153.58 585.16 152.5 C586.03 151.42 586.99 150.65 587.76 149.4 C588.53 148.15 589.31 146 589.76 145 C590.21 144 590.34 143.67 590.46 143.4 Z" fill="none" stroke="#b21fe8" stroke-width="1.15" stroke-linejoin="round"/>
<line x1="582.5" y1="156.8" x2="599.42" y2="156.8" stroke="#b21fe8" stroke-width="1" stroke-dasharray="1.1 2.3" stroke-dashoffset="-1.5"/>
<line x1="581.12" y1="160.6" x2="600.8" y2="160.6" stroke="#b21fe8" stroke-width="1.2" stroke-dasharray="3 2"/>
<path d="M626.48 108.6 C626.5 109.17 626.46 110.37 626.58 112 C626.7 113.63 626.83 116.32 627.18 118.4 C627.53 120.48 628.1 123.07 628.68 124.5 C629.26 125.93 630.03 126.18 630.68 127 C631.33 127.82 632.31 128.18 632.58 129.4 C632.85 130.62 632.23 132.67 632.28 134.3 C632.33 135.93 632.3 137.77 632.88 139.2 C633.46 140.63 636.03 141.77 635.78 142.9 C635.53 144.03 632.66 145.08 631.38 146 C630.1 146.92 628.38 147.48 628.08 148.4 C627.78 149.32 629.46 150.57 629.58 151.5 C629.7 152.43 629.13 152.98 628.78 154 C628.43 155.02 627.93 155.98 627.48 157.6 C627.03 159.22 626.28 162.13 626.08 163.7 C625.88 165.27 626.25 165.97 626.28 167 C626.31 168.03 626.28 169.42 626.28 169.9 L624.08 169.9 C624.08 169.42 624.05 168.03 624.08 167 C624.11 165.97 624.48 165.27 624.28 163.7 C624.08 162.13 623.33 159.22 622.88 157.6 C622.43 155.98 621.93 155.02 621.58 154 C621.23 152.98 620.66 152.43 620.78 151.5 C620.9 150.57 622.58 149.32 622.28 148.4 C621.98 147.48 620.26 146.92 618.98 146 C617.7 145.08 614.83 144.03 614.58 142.9 C614.33 141.77 616.9 140.63 617.48 139.2 C618.06 137.77 618.03 135.93 618.08 134.3 C618.13 132.67 617.51 130.62 617.78 129.4 C618.05 128.18 619.03 127.82 619.68 127 C620.33 126.18 621.1 125.93 621.68 124.5 C622.26 123.07 622.83 120.48 623.18 118.4 C623.53 116.32 623.66 113.63 623.78 112 C623.9 110.37 623.86 109.17 623.88 108.6 Z" fill="none" stroke="#ff7f1e" stroke-width="1.15" stroke-linejoin="round"/>
<line x1="618.23" y1="130.2" x2="632.13" y2="130.2" stroke="#ff7f1e" stroke-width="1" stroke-dasharray="1.1 2.3" stroke-dashoffset="-1.5"/>
<line x1="617.88" y1="139.2" x2="632.48" y2="139.2" stroke="#ff7f1e" stroke-width="1.2" stroke-dasharray="3 2"/>
<line x1="615.97" y1="143.6" x2="634.39" y2="143.6" stroke="#ff7f1e" stroke-width="1" stroke-dasharray="1.1 2.3" stroke-dashoffset="-1.5"/>
<path d="M662.3 169.7 C662.17 170.08 661.58 171.12 661.5 172 C661.42 172.88 661.43 174.21 661.8 175 C662.17 175.79 663.13 176.17 663.7 176.75 C664.27 177.33 664.48 177.84 665.2 178.5 C665.92 179.16 667.17 180 668 180.7 C668.83 181.4 670.2 182.12 670.2 182.7 C670.2 183.28 668.28 183.58 668 184.2 C667.72 184.82 668.67 185.75 668.5 186.4 C668.33 187.05 667.03 187.3 667 188.1 C666.97 188.9 668.45 190.38 668.3 191.2 C668.15 192.02 666.53 192.27 666.1 193 C665.67 193.73 666.13 194.88 665.7 195.6 C665.27 196.32 664.2 196.72 663.5 197.3 C662.8 197.88 661.85 198.6 661.5 199.1 C661.15 199.6 661.42 200.1 661.4 200.3 L657.4 200.3 C657.38 200.1 657.65 199.6 657.3 199.1 C656.95 198.6 656 197.88 655.3 197.3 C654.6 196.72 653.53 196.32 653.1 195.6 C652.67 194.88 653.13 193.73 652.7 193 C652.27 192.27 650.65 192.02 650.5 191.2 C650.35 190.38 651.83 188.9 651.8 188.1 C651.77 187.3 650.47 187.05 650.3 186.4 C650.13 185.75 651.08 184.82 650.8 184.2 C650.52 183.58 648.6 183.28 648.6 182.7 C648.6 182.12 649.97 181.4 650.8 180.7 C651.63 180 652.88 179.16 653.6 178.5 C654.32 177.84 654.53 177.33 655.1 176.75 C655.67 176.17 656.63 175.79 657 175 C657.37 174.21 657.38 172.88 657.3 172 C657.22 171.12 656.63 170.08 656.5 169.7 Z" fill="none" stroke="#111111" stroke-width="1.15" stroke-linejoin="round"/>
<line x1="649.29" y1="182.9" x2="669.51" y2="182.9" stroke="#111111" stroke-width="1" stroke-dasharray="1.1 2.3" stroke-dashoffset="-1.5"/>
<line x1="651.14" y1="186.9" x2="667.66" y2="186.9" stroke="#111111" stroke-width="1.2" stroke-dasharray="3 2"/>
<line x1="651.14" y1="191.4" x2="667.66" y2="191.4" stroke="#111111" stroke-width="1" stroke-dasharray="1.1 2.3" stroke-dashoffset="-1.5"/>
<text x="662.3" y="17.9" font-size="15.5" fill="#222">b</text>
<path d="M44.5 404 V622 H262.1" fill="none" stroke="#1a1a1a" stroke-width="1.35"/>
<line x1="36" y1="622" x2="44.5" y2="622" stroke="#1a1a1a" stroke-width="1.3"/>
<text x="33.7" y="626.2" text-anchor="end" font-size="12.5" fill="#222">0</text>
<line x1="36" y1="567.65" x2="44.5" y2="567.65" stroke="#1a1a1a" stroke-width="1.3"/>
<text x="33.7" y="571.85" text-anchor="end" font-size="12.5" fill="#222">5</text>
<line x1="36" y1="513.3" x2="44.5" y2="513.3" stroke="#1a1a1a" stroke-width="1.3"/>
<text x="33.7" y="517.5" text-anchor="end" font-size="12.5" fill="#222">10</text>
<line x1="36" y1="458.95" x2="44.5" y2="458.95" stroke="#1a1a1a" stroke-width="1.3"/>
<text x="33.7" y="463.15" text-anchor="end" font-size="12.5" fill="#222">15</text>
<line x1="36" y1="404.6" x2="44.5" y2="404.6" stroke="#1a1a1a" stroke-width="1.3"/>
<text x="33.7" y="408.8" text-anchor="end" font-size="12.5" fill="#222">20</text>
<line x1="67.4" y1="622" x2="67.4" y2="630.4" stroke="#1a1a1a" stroke-width="1.3"/>
<line x1="101.64" y1="622" x2="101.64" y2="630.4" stroke="#1a1a1a" stroke-width="1.3"/>
<line x1="135.88" y1="622" x2="135.88" y2="630.4" stroke="#1a1a1a" stroke-width="1.3"/>
<line x1="170.12" y1="622" x2="170.12" y2="630.4" stroke="#1a1a1a" stroke-width="1.3"/>
<line x1="204.36" y1="622" x2="204.36" y2="630.4" stroke="#1a1a1a" stroke-width="1.3"/>
<line x1="238.6" y1="622" x2="238.6" y2="630.4" stroke="#1a1a1a" stroke-width="1.3"/>
<text transform="translate(69.8 642.4) rotate(-45)" text-anchor="end" font-size="12.0" fill="#222">All individuals</text>
<text transform="translate(104.04 642.4) rotate(-45)" text-anchor="end" font-size="12.0" fill="#222">Female individuals</text>
<text transform="translate(138.28 642.4) rotate(-45)" text-anchor="end" font-size="12.0" fill="#222">Male individuals</text>
<text transform="translate(172.52 642.4) rotate(-45)" text-anchor="end" font-size="12.0" fill="#222">Family with all indiniduals</text>
<text transform="translate(206.76 642.4) rotate(-45)" text-anchor="end" font-size="12.0" fill="#222">Family with females</text>
<text transform="translate(241 642.4) rotate(-45)" text-anchor="end" font-size="12.0" fill="#222">Family with males</text>
<text transform="translate(11.8 563.8) rotate(-90)" font-size="14" fill="#222" textLength="99.2" lengthAdjust="spacing">Body length (cm)</text>
<path d="M67.6 418.1 C67.6 418.42 67.58 413.68 67.6 420 C67.62 426.32 67.68 449.1 67.7 456 C67.72 462.9 67.68 460.18 67.75 461.4 C67.82 462.62 67.89 462.62 68.1 463.3 C68.31 463.98 68.75 464.87 69 465.5 C69.25 466.13 69.4 466.35 69.6 467.1 C69.8 467.85 69.73 469.03 70.2 470 C70.67 470.97 71.47 471.55 72.4 472.9 C73.33 474.25 75.55 476.68 75.8 478.1 C76.05 479.52 73.83 480.28 73.9 481.4 C73.97 482.52 75.45 483.6 76.2 484.8 C76.95 486 78.55 487.25 78.4 488.6 C78.25 489.95 76.53 491.55 75.3 492.9 C74.07 494.25 72.03 495.6 71 496.7 C69.97 497.8 69.55 498.4 69.1 499.5 C68.65 500.6 68.53 501.72 68.3 503.3 C68.07 504.88 67.76 507.55 67.7 509 C67.64 510.45 67.89 510.17 67.95 512 C68.01 513.83 68.08 517.67 68.05 520 C68.03 522.33 67.88 523.87 67.8 526 C67.73 528.13 67.63 531.67 67.6 532.8 L67.2 532.8 C67.17 531.67 67.08 528.13 67 526 C66.92 523.87 66.78 522.33 66.75 520 C66.72 517.67 66.79 513.83 66.85 512 C66.91 510.17 67.16 510.45 67.1 509 C67.04 507.55 66.73 504.88 66.5 503.3 C66.27 501.72 66.15 500.6 65.7 499.5 C65.25 498.4 64.83 497.8 63.8 496.7 C62.77 495.6 60.73 494.25 59.5 492.9 C58.27 491.55 56.55 489.95 56.4 488.6 C56.25 487.25 57.85 486 58.6 484.8 C59.35 483.6 60.83 482.52 60.9 481.4 C60.97 480.28 58.75 479.52 59 478.1 C59.25 476.68 61.47 474.25 62.4 472.9 C63.33 471.55 64.13 470.97 64.6 470 C65.07 469.03 65 467.85 65.2 467.1 C65.4 466.35 65.55 466.13 65.8 465.5 C66.05 464.87 66.49 463.98 66.7 463.3 C66.91 462.62 66.98 462.62 67.05 461.4 C67.12 460.18 67.08 462.9 67.1 456 C67.12 449.1 67.18 426.32 67.2 420 C67.22 413.68 67.2 418.42 67.2 418.1 Z" fill="none" stroke="#0a0aff" stroke-width="1.15" stroke-linejoin="round"/>
<line x1="59.52" y1="478.3" x2="75.28" y2="478.3" stroke="#0a0aff" stroke-width="1" stroke-dasharray="1.1 2.3" stroke-dashoffset="-1.5"/>
<line x1="58.19" y1="486.2" x2="76.61" y2="486.2" stroke="#0a0aff" stroke-width="1.2" stroke-dasharray="3 2"/>
<line x1="59.54" y1="492.4" x2="75.26" y2="492.4" stroke="#0a0aff" stroke-width="1" stroke-dasharray="1.1 2.3" stroke-dashoffset="-1.5"/>
<path d="M101.84 420.1 C101.84 420.42 101.82 416.02 101.84 422 C101.86 427.98 101.89 449.67 101.94 456 C101.99 462.33 102.04 458.93 102.14 460 C102.24 461.07 102.29 461.73 102.54 462.4 C102.79 463.07 103.39 463.53 103.64 464 C103.89 464.47 103.91 464.37 104.04 465.2 C104.17 466.03 104.12 468.03 104.44 469 C104.76 469.97 105.22 470.2 105.94 471 C106.66 471.8 107.69 472.62 108.74 473.8 C109.79 474.98 112.16 476.98 112.24 478.1 C112.32 479.22 110.29 479.7 109.24 480.5 C108.19 481.3 106.66 481.95 105.94 482.9 C105.22 483.85 105.19 485.18 104.94 486.2 C104.69 487.22 104.76 488.05 104.44 489 C104.12 489.95 103.36 490.93 103.04 491.9 C102.72 492.87 102.69 493.05 102.54 494.8 C102.39 496.55 102.16 500.7 102.14 502.4 C102.12 504.1 102.37 504.05 102.44 505 C102.51 505.95 102.61 506.95 102.54 508.1 C102.47 509.25 102.11 509.92 102.04 511.9 C101.97 513.88 102.17 517.27 102.14 520 C102.11 522.73 101.89 526.92 101.84 528.3 L101.44 528.3 C101.39 526.92 101.17 522.73 101.14 520 C101.11 517.27 101.31 513.88 101.24 511.9 C101.17 509.92 100.81 509.25 100.74 508.1 C100.67 506.95 100.77 505.95 100.84 505 C100.91 504.05 101.16 504.1 101.14 502.4 C101.12 500.7 100.89 496.55 100.74 494.8 C100.59 493.05 100.56 492.87 100.24 491.9 C99.92 490.93 99.16 489.95 98.84 489 C98.52 488.05 98.59 487.22 98.34 486.2 C98.09 485.18 98.06 483.85 97.34 482.9 C96.62 481.95 95.09 481.3 94.04 480.5 C92.99 479.7 90.96 479.22 91.04 478.1 C91.12 476.98 93.49 474.98 94.54 473.8 C95.59 472.62 96.62 471.8 97.34 471 C98.06 470.2 98.52 469.97 98.84 469 C99.16 468.03 99.11 466.03 99.24 465.2 C99.37 464.37 99.39 464.47 99.64 464 C99.89 463.53 100.49 463.07 100.74 462.4 C100.99 461.73 101.04 461.07 101.14 460 C101.24 458.93 101.29 462.33 101.34 456 C101.39 449.67 101.42 427.98 101.44 422 C101.46 416.02 101.44 420.42 101.44 420.1 Z" fill="none" stroke="#ff1a1a" stroke-width="1.15" stroke-linejoin="round"/>
<line x1="95.44" y1="473.3" x2="107.84" y2="473.3" stroke="#ff1a1a" stroke-width="1" stroke-dasharray="1.1 2.3" stroke-dashoffset="-1.5"/>
<line x1="91.69" y1="478.3" x2="111.59" y2="478.3" stroke="#ff1a1a" stroke-width="1.2" stroke-dasharray="3 2"/>
<line x1="98.44" y1="485.2" x2="104.84" y2="485.2" stroke="#ff1a1a" stroke-width="1" stroke-dasharray="1.1 2.3" stroke-dashoffset="-1.5"/>
<path d="M136.08 418.1 C136.08 418.42 136.08 412.18 136.08 420 C136.08 427.82 136.03 456.92 136.08 465 C136.13 473.08 136.37 467.5 136.38 468.5 C136.39 469.5 136.16 469.92 136.13 471 C136.1 472.08 136.09 474.12 136.18 475 C136.27 475.88 136.56 475.92 136.68 476.3 C136.8 476.68 136.9 476.82 136.88 477.3 C136.86 477.78 136.3 478.47 136.58 479.2 C136.86 479.93 137.55 480.83 138.58 481.7 C139.61 482.57 141.68 483.6 142.78 484.4 C143.88 485.2 144.56 485.77 145.18 486.5 C145.8 487.23 146.56 487.78 146.48 488.8 C146.4 489.82 145.71 491.42 144.68 492.6 C143.65 493.78 141.28 494.82 140.28 495.9 C139.28 496.98 139.3 498.12 138.68 499.1 C138.06 500.08 136.96 501.07 136.58 501.8 C136.2 502.53 136.28 502.85 136.38 503.5 C136.48 504.15 137.13 505.03 137.18 505.7 C137.23 506.37 136.83 507.02 136.68 507.5 C136.53 507.98 136.34 507.35 136.28 508.6 C136.22 509.85 136.33 513.1 136.33 515 C136.33 516.9 136.32 517.03 136.28 520 C136.24 522.97 136.11 530.67 136.08 532.8 L135.68 532.8 C135.65 530.67 135.52 522.97 135.48 520 C135.44 517.03 135.43 516.9 135.43 515 C135.43 513.1 135.54 509.85 135.48 508.6 C135.42 507.35 135.23 507.98 135.08 507.5 C134.93 507.02 134.53 506.37 134.58 505.7 C134.63 505.03 135.28 504.15 135.38 503.5 C135.48 502.85 135.56 502.53 135.18 501.8 C134.8 501.07 133.7 500.08 133.08 499.1 C132.46 498.12 132.48 496.98 131.48 495.9 C130.48 494.82 128.11 493.78 127.08 492.6 C126.05 491.42 125.36 489.82 125.28 488.8 C125.2 487.78 125.96 487.23 126.58 486.5 C127.2 485.77 127.88 485.2 128.98 484.4 C130.08 483.6 132.15 482.57 133.18 481.7 C134.21 480.83 134.9 479.93 135.18 479.2 C135.46 478.47 134.9 477.78 134.88 477.3 C134.86 476.82 134.96 476.68 135.08 476.3 C135.2 475.92 135.49 475.88 135.58 475 C135.67 474.12 135.66 472.08 135.63 471 C135.6 469.92 135.37 469.5 135.38 468.5 C135.39 467.5 135.63 473.08 135.68 465 C135.73 456.92 135.68 427.82 135.68 420 C135.68 412.18 135.68 418.42 135.68 418.1 Z" fill="none" stroke="#1ec41e" stroke-width="1.15" stroke-linejoin="round"/>
<line x1="126.64" y1="487.1" x2="145.12" y2="487.1" stroke="#1ec41e" stroke-width="1" stroke-dasharray="1.1 2.3" stroke-dashoffset="-1.5"/>
<line x1="126.44" y1="490.4" x2="145.32" y2="490.4" stroke="#1ec41e" stroke-width="1.2" stroke-dasharray="3 2"/>
<line x1="130.41" y1="494.8" x2="141.35" y2="494.8" stroke="#1ec41e" stroke-width="1" stroke-dasharray="1.1 2.3" stroke-dashoffset="-1.5"/>
<path d="M171.62 478.2 C171.95 478.33 172.94 478.67 173.62 479 C174.3 479.33 174.9 479.57 175.72 480.2 C176.54 480.83 177.7 481.98 178.52 482.8 C179.34 483.62 180.8 484.25 180.62 485.1 C180.44 485.95 178.49 487.02 177.42 487.9 C176.35 488.78 175.14 489.72 174.22 490.4 C173.3 491.08 172.52 491.32 171.92 492 C171.32 492.68 170.72 493.83 170.62 494.5 C170.52 495.17 171.17 495.53 171.32 496 C171.47 496.47 171.55 496.87 171.52 497.3 C171.49 497.73 171.27 498.33 171.12 498.6 C170.97 498.87 170.7 498.85 170.62 498.9 L169.62 498.9 C169.54 498.85 169.27 498.87 169.12 498.6 C168.97 498.33 168.75 497.73 168.72 497.3 C168.69 496.87 168.77 496.47 168.92 496 C169.07 495.53 169.72 495.17 169.62 494.5 C169.52 493.83 168.92 492.68 168.32 492 C167.72 491.32 166.94 491.08 166.02 490.4 C165.1 489.72 163.89 488.78 162.82 487.9 C161.75 487.02 159.8 485.95 159.62 485.1 C159.44 484.25 160.9 483.62 161.72 482.8 C162.54 481.98 163.7 480.83 164.52 480.2 C165.34 479.57 165.94 479.33 166.62 479 C167.3 478.67 168.29 478.33 168.62 478.2 Z" fill="none" stroke="#b21fe8" stroke-width="1.15" stroke-linejoin="round"/>
<line x1="162.12" y1="482.8" x2="178.12" y2="482.8" stroke="#b21fe8" stroke-width="1" stroke-dasharray="1.1 2.3" stroke-dashoffset="-1.5"/>
<line x1="160.25" y1="485.3" x2="179.99" y2="485.3" stroke="#b21fe8" stroke-width="1.2" stroke-dasharray="3 2"/>
<line x1="164.12" y1="488.6" x2="176.12" y2="488.6" stroke="#b21fe8" stroke-width="1" stroke-dasharray="1.1 2.3" stroke-dashoffset="-1.5"/>
<path d="M205.56 467.2 C205.74 467.42 206.16 467.95 206.66 468.5 C207.16 469.05 207.78 469.7 208.56 470.5 C209.34 471.3 210.53 472.22 211.36 473.3 C212.19 474.38 212.94 475.9 213.56 477 C214.18 478.1 215.26 479.15 215.06 479.9 C214.86 480.65 213.26 480.98 212.36 481.5 C211.46 482.02 210.29 482.15 209.66 483 C209.03 483.85 209.14 485.32 208.56 486.6 C207.98 487.88 206.78 489.68 206.16 490.7 C205.54 491.72 205.04 491.98 204.86 492.7 C204.68 493.42 204.93 494.28 205.06 495 C205.19 495.72 205.53 496.37 205.66 497 C205.79 497.63 205.94 498.23 205.86 498.8 C205.78 499.37 205.28 500.13 205.16 500.4 L203.56 500.4 C203.44 500.13 202.94 499.37 202.86 498.8 C202.78 498.23 202.93 497.63 203.06 497 C203.19 496.37 203.53 495.72 203.66 495 C203.79 494.28 204.04 493.42 203.86 492.7 C203.68 491.98 203.18 491.72 202.56 490.7 C201.94 489.68 200.74 487.88 200.16 486.6 C199.58 485.32 199.69 483.85 199.06 483 C198.43 482.15 197.26 482.02 196.36 481.5 C195.46 480.98 193.86 480.65 193.66 479.9 C193.46 479.15 194.54 478.1 195.16 477 C195.78 475.9 196.53 474.38 197.36 473.3 C198.19 472.22 199.38 471.3 200.16 470.5 C200.94 469.7 201.56 469.05 202.06 468.5 C202.56 467.95 202.98 467.42 203.16 467.2 Z" fill="none" stroke="#ff7f1e" stroke-width="1.15" stroke-linejoin="round"/>
<line x1="196.27" y1="475.8" x2="212.45" y2="475.8" stroke="#ff7f1e" stroke-width="1" stroke-dasharray="1.1 2.3" stroke-dashoffset="-1.5"/>
<line x1="194.06" y1="479.9" x2="214.66" y2="479.9" stroke="#ff7f1e" stroke-width="1.2" stroke-dasharray="3 2"/>
<line x1="199.77" y1="484" x2="208.95" y2="484" stroke="#ff7f1e" stroke-width="1" stroke-dasharray="1.1 2.3" stroke-dashoffset="-1.5"/>
<path d="M239.2 482 C239.25 482.17 239.3 482.58 239.5 483 C239.7 483.42 239.6 483.9 240.4 484.5 C241.2 485.1 243.18 485.93 244.3 486.6 C245.42 487.27 246.25 487.85 247.1 488.5 C247.95 489.15 249.43 489.92 249.4 490.5 C249.37 491.08 247.53 491.63 246.9 492 C246.27 492.37 245.82 492.37 245.6 492.7 C245.38 493.03 245.4 493.67 245.6 494 C245.8 494.33 246.97 494.42 246.8 494.7 C246.63 494.98 245.3 495.35 244.6 495.7 C243.9 496.05 243.27 496.45 242.6 496.8 C241.93 497.15 240.93 497.63 240.6 497.8 L236.6 497.8 C236.27 497.63 235.27 497.15 234.6 496.8 C233.93 496.45 233.3 496.05 232.6 495.7 C231.9 495.35 230.57 494.98 230.4 494.7 C230.23 494.42 231.4 494.33 231.6 494 C231.8 493.67 231.82 493.03 231.6 492.7 C231.38 492.37 230.93 492.37 230.3 492 C229.67 491.63 227.83 491.08 227.8 490.5 C227.77 489.92 229.25 489.15 230.1 488.5 C230.95 487.85 231.78 487.27 232.9 486.6 C234.02 485.93 236 485.1 236.8 484.5 C237.6 483.9 237.5 483.42 237.7 483 C237.9 482.58 237.95 482.17 238 482 Z" fill="none" stroke="#111111" stroke-width="1.15" stroke-linejoin="round"/>
<line x1="230.65" y1="488.4" x2="246.55" y2="488.4" stroke="#111111" stroke-width="1" stroke-dasharray="1.1 2.3" stroke-dashoffset="-1.5"/>
<line x1="229.37" y1="491.2" x2="247.83" y2="491.2" stroke="#111111" stroke-width="1.2" stroke-dasharray="3 2"/>
<line x1="231.66" y1="494.2" x2="245.54" y2="494.2" stroke="#111111" stroke-width="1" stroke-dasharray="1.1 2.3" stroke-dashoffset="-1.5"/>
<text x="241.6" y="416.1" font-size="15.5" fill="#222">c</text>
<path d="M466.5 402.5 V620.3 H684.5" fill="none" stroke="#1a1a1a" stroke-width="1.35"/>
<line x1="458" y1="620.3" x2="466.5" y2="620.3" stroke="#1a1a1a" stroke-width="1.3"/>
<text x="455.7" y="624.5" text-anchor="end" font-size="12.5" fill="#222">0</text>
<line x1="458" y1="566" x2="466.5" y2="566" stroke="#1a1a1a" stroke-width="1.3"/>
<text x="455.7" y="570.2" text-anchor="end" font-size="12.5" fill="#222">2</text>
<line x1="458" y1="511.7" x2="466.5" y2="511.7" stroke="#1a1a1a" stroke-width="1.3"/>
<text x="455.7" y="515.9" text-anchor="end" font-size="12.5" fill="#222">4</text>
<line x1="458" y1="457.4" x2="466.5" y2="457.4" stroke="#1a1a1a" stroke-width="1.3"/>
<text x="455.7" y="461.6" text-anchor="end" font-size="12.5" fill="#222">6</text>
<line x1="458" y1="403.1" x2="466.5" y2="403.1" stroke="#1a1a1a" stroke-width="1.3"/>
<text x="455.7" y="407.3" text-anchor="end" font-size="12.5" fill="#222">8</text>
<line x1="489.3" y1="620.3" x2="489.3" y2="628.7" stroke="#1a1a1a" stroke-width="1.3"/>
<line x1="523.58" y1="620.3" x2="523.58" y2="628.7" stroke="#1a1a1a" stroke-width="1.3"/>
<line x1="557.86" y1="620.3" x2="557.86" y2="628.7" stroke="#1a1a1a" stroke-width="1.3"/>
<line x1="592.14" y1="620.3" x2="592.14" y2="628.7" stroke="#1a1a1a" stroke-width="1.3"/>
<line x1="626.42" y1="620.3" x2="626.42" y2="628.7" stroke="#1a1a1a" stroke-width="1.3"/>
<line x1="660.7" y1="620.3" x2="660.7" y2="628.7" stroke="#1a1a1a" stroke-width="1.3"/>
<text transform="translate(491.7 640.7) rotate(-45)" text-anchor="end" font-size="12.0" fill="#222">All individuals</text>
<text transform="translate(525.98 640.7) rotate(-45)" text-anchor="end" font-size="12.0" fill="#222">Female individuals</text>
<text transform="translate(560.26 640.7) rotate(-45)" text-anchor="end" font-size="12.0" fill="#222">Male individuals</text>
<text transform="translate(594.54 640.7) rotate(-45)" text-anchor="end" font-size="12.0" fill="#222">Family with all indiniduals</text>
<text transform="translate(628.82 640.7) rotate(-45)" text-anchor="end" font-size="12.0" fill="#222">Family with females</text>
<text transform="translate(663.1 640.7) rotate(-45)" text-anchor="end" font-size="12.0" fill="#222">Family with males</text>
<text transform="translate(440.2 544.5) rotate(-90)" font-size="14" fill="#222" textLength="62.7" lengthAdjust="spacing">Expression</text>
<path d="M489.55 445.4 C489.56 446.17 489.56 448.4 489.6 450 C489.64 451.6 489.63 453.67 489.8 455 C489.97 456.33 490.42 456.83 490.6 458 C490.78 459.17 490.85 460 490.9 462 C490.95 464 490.88 466.73 490.9 470 C490.92 473.27 490.85 478.85 491 481.6 C491.15 484.35 491.47 484.25 491.8 486.5 C492.13 488.75 492.63 491.83 493 495.1 C493.37 498.37 493.68 503.03 494 506.1 C494.32 509.17 494.38 510.23 494.9 513.5 C495.42 516.77 496.37 521.65 497.1 525.7 C497.83 529.75 498.8 533.9 499.3 537.8 C499.8 541.7 500.1 546.33 500.1 549.1 C500.1 551.87 499.87 552.53 499.3 554.4 C498.73 556.27 497.7 557.7 496.7 560.3 C495.7 562.9 494.17 566.52 493.3 570 C492.43 573.48 492.03 577.47 491.5 581.2 C490.97 584.93 490.37 588.43 490.1 592.4 C489.83 596.37 489.98 600.47 489.9 605 C489.82 609.53 489.65 617.17 489.6 619.6 L489 619.6 C488.95 617.17 488.78 609.53 488.7 605 C488.62 600.47 488.77 596.37 488.5 592.4 C488.23 588.43 487.63 584.93 487.1 581.2 C486.57 577.47 486.17 573.48 485.3 570 C484.43 566.52 482.9 562.9 481.9 560.3 C480.9 557.7 479.87 556.27 479.3 554.4 C478.73 552.53 478.5 551.87 478.5 549.1 C478.5 546.33 478.8 541.7 479.3 537.8 C479.8 533.9 480.77 529.75 481.5 525.7 C482.23 521.65 483.18 516.77 483.7 513.5 C484.22 510.23 484.28 509.17 484.6 506.1 C484.92 503.03 485.23 498.37 485.6 495.1 C485.97 491.83 486.47 488.75 486.8 486.5 C487.13 484.25 487.45 484.35 487.6 481.6 C487.75 478.85 487.68 473.27 487.7 470 C487.72 466.73 487.65 464 487.7 462 C487.75 460 487.82 459.17 488 458 C488.18 456.83 488.63 456.33 488.8 455 C488.97 453.67 488.96 451.6 489 450 C489.04 448.4 489.04 446.17 489.05 445.4 Z" fill="none" stroke="#0a0aff" stroke-width="1.15" stroke-linejoin="round"/>
<line x1="483.88" y1="514.7" x2="494.72" y2="514.7" stroke="#0a0aff" stroke-width="1" stroke-dasharray="1.1 2.3" stroke-dashoffset="-1.5"/>
<line x1="479.66" y1="538.3" x2="498.94" y2="538.3" stroke="#0a0aff" stroke-width="1.2" stroke-dasharray="3 2"/>
<line x1="479.7" y1="554.4" x2="498.9" y2="554.4" stroke="#0a0aff" stroke-width="1" stroke-dasharray="1.1 2.3" stroke-dashoffset="-1.5"/>
<path d="M524.18 462.2 C524.23 462.5 524.41 463.17 524.48 464 C524.55 464.83 524.48 464.62 524.58 467.2 C524.68 469.78 524.9 475.42 525.08 479.5 C525.26 483.58 525.48 488.03 525.68 491.7 C525.88 495.37 525.95 499.05 526.28 501.5 C526.61 503.95 527.11 503.95 527.68 506.4 C528.25 508.85 529.05 513.33 529.68 516.2 C530.31 519.07 531 521.55 531.48 523.6 C531.96 525.65 532.25 525.65 532.58 528.5 C532.91 531.35 533.21 536.73 533.48 540.7 C533.75 544.67 534.4 549.43 534.18 552.3 C533.96 555.17 532.91 555.48 532.18 557.9 C531.45 560.32 530.56 563.45 529.78 566.8 C529 570.15 528.21 574.27 527.48 578 C526.75 581.73 525.86 585.18 525.38 589.2 C524.9 593.22 524.76 598.63 524.58 602.1 C524.4 605.57 524.4 607.08 524.28 610 C524.16 612.92 523.95 618 523.88 619.6 L523.28 619.6 C523.21 618 523 612.92 522.88 610 C522.76 607.08 522.76 605.57 522.58 602.1 C522.4 598.63 522.26 593.22 521.78 589.2 C521.3 585.18 520.41 581.73 519.68 578 C518.95 574.27 518.16 570.15 517.38 566.8 C516.6 563.45 515.71 560.32 514.98 557.9 C514.25 555.48 513.2 555.17 512.98 552.3 C512.76 549.43 513.41 544.67 513.68 540.7 C513.95 536.73 514.25 531.35 514.58 528.5 C514.91 525.65 515.2 525.65 515.68 523.6 C516.16 521.55 516.85 519.07 517.48 516.2 C518.11 513.33 518.91 508.85 519.48 506.4 C520.05 503.95 520.55 503.95 520.88 501.5 C521.21 499.05 521.28 495.37 521.48 491.7 C521.68 488.03 521.9 483.58 522.08 479.5 C522.26 475.42 522.48 469.78 522.58 467.2 C522.68 464.62 522.61 464.83 522.68 464 C522.75 463.17 522.93 462.5 522.98 462.2 Z" fill="none" stroke="#ff1a1a" stroke-width="1.15" stroke-linejoin="round"/>
<line x1="516.42" y1="522.2" x2="530.74" y2="522.2" stroke="#ff1a1a" stroke-width="1" stroke-dasharray="1.1 2.3" stroke-dashoffset="-1.5"/>
<line x1="514.11" y1="540.3" x2="533.05" y2="540.3" stroke="#ff1a1a" stroke-width="1.2" stroke-dasharray="3 2"/>
<line x1="515.38" y1="557.9" x2="531.78" y2="557.9" stroke="#ff1a1a" stroke-width="1" stroke-dasharray="1.1 2.3" stroke-dashoffset="-1.5"/>
<path d="M558.11 445.4 C558.13 446.17 558.12 448.4 558.21 450 C558.3 451.6 558.42 453.5 558.66 455 C558.9 456.5 559.43 457.83 559.66 459 C559.89 460.17 560.13 460.68 560.06 462 C559.99 463.32 559.41 464.9 559.26 466.9 C559.11 468.9 559.09 471.55 559.16 474 C559.23 476.45 559.14 479.1 559.66 481.6 C560.18 484.1 561.63 486.13 562.26 489 C562.89 491.87 563.29 495.95 563.46 498.8 C563.63 501.65 563.19 503.65 563.26 506.1 C563.33 508.55 563.54 510.23 563.86 513.5 C564.18 516.77 564.66 522.05 565.16 525.7 C565.66 529.35 566.33 531.23 566.86 535.4 C567.39 539.57 568.63 546.55 568.36 550.7 C568.09 554.85 566.46 556.82 565.26 560.3 C564.06 563.78 562.21 567.32 561.16 571.6 C560.11 575.88 559.39 582.1 558.96 586 C558.53 589.9 558.69 589.4 558.56 595 C558.43 600.6 558.23 615.5 558.16 619.6 L557.56 619.6 C557.49 615.5 557.29 600.6 557.16 595 C557.03 589.4 557.19 589.9 556.76 586 C556.33 582.1 555.61 575.88 554.56 571.6 C553.51 567.32 551.66 563.78 550.46 560.3 C549.26 556.82 547.63 554.85 547.36 550.7 C547.09 546.55 548.33 539.57 548.86 535.4 C549.39 531.23 550.06 529.35 550.56 525.7 C551.06 522.05 551.54 516.77 551.86 513.5 C552.18 510.23 552.39 508.55 552.46 506.1 C552.53 503.65 552.09 501.65 552.26 498.8 C552.43 495.95 552.83 491.87 553.46 489 C554.09 486.13 555.54 484.1 556.06 481.6 C556.58 479.1 556.49 476.45 556.56 474 C556.63 471.55 556.61 468.9 556.46 466.9 C556.31 464.9 555.73 463.32 555.66 462 C555.59 460.68 555.83 460.17 556.06 459 C556.29 457.83 556.82 456.5 557.06 455 C557.3 453.5 557.42 451.6 557.51 450 C557.6 448.4 557.59 446.17 557.61 445.4 Z" fill="none" stroke="#1ec41e" stroke-width="1.15" stroke-linejoin="round"/>
<line x1="552.68" y1="508.3" x2="563.04" y2="508.3" stroke="#1ec41e" stroke-width="1" stroke-dasharray="1.1 2.3" stroke-dashoffset="-1.5"/>
<line x1="549.26" y1="535.4" x2="566.46" y2="535.4" stroke="#1ec41e" stroke-width="1.2" stroke-dasharray="3 2"/>
<line x1="548.02" y1="551.5" x2="567.7" y2="551.5" stroke="#1ec41e" stroke-width="1" stroke-dasharray="1.1 2.3" stroke-dashoffset="-1.5"/>
<path d="M595.24 520.4 C595.27 520.67 595.21 521.27 595.44 522 C595.67 522.73 596.01 523.6 596.64 524.8 C597.27 526 598.21 527.57 599.24 529.2 C600.27 530.83 602.72 532.9 602.84 534.6 C602.96 536.3 601.04 537.87 599.94 539.4 C598.84 540.93 597.01 542.7 596.24 543.8 C595.47 544.9 595.52 545.4 595.34 546 C595.16 546.6 595.17 547.17 595.14 547.4 L589.14 547.4 C589.11 547.17 589.12 546.6 588.94 546 C588.76 545.4 588.81 544.9 588.04 543.8 C587.27 542.7 585.44 540.93 584.34 539.4 C583.24 537.87 581.32 536.3 581.44 534.6 C581.56 532.9 584.01 530.83 585.04 529.2 C586.07 527.57 587.01 526 587.64 524.8 C588.27 523.6 588.61 522.73 588.84 522 C589.07 521.27 589.01 520.67 589.04 520.4 Z" fill="none" stroke="#b21fe8" stroke-width="1.15" stroke-linejoin="round"/>
<line x1="585.68" y1="528.8" x2="598.6" y2="528.8" stroke="#b21fe8" stroke-width="1" stroke-dasharray="1.1 2.3" stroke-dashoffset="-1.5"/>
<line x1="581.84" y1="534.6" x2="602.44" y2="534.6" stroke="#b21fe8" stroke-width="1.2" stroke-dasharray="3 2"/>
<line x1="584.74" y1="539.4" x2="599.54" y2="539.4" stroke="#b21fe8" stroke-width="1" stroke-dasharray="1.1 2.3" stroke-dashoffset="-1.5"/>
<path d="M628.22 517.5 C628.22 517.83 628.12 518.77 628.22 519.5 C628.32 520.23 628.37 521.15 628.82 521.9 C629.27 522.65 630.14 523.27 630.92 524 C631.7 524.73 632.49 525.07 633.52 526.3 C634.55 527.53 637 529.7 637.12 531.4 C637.24 533.1 634.9 535.17 634.22 536.5 C633.54 537.83 632.95 538.18 633.02 539.4 C633.09 540.62 634.45 542.33 634.62 543.8 C634.79 545.27 634.85 546.87 634.02 548.2 C633.19 549.53 630.37 550.83 629.62 551.8 C628.87 552.77 629.5 553.15 629.52 554 C629.54 554.85 629.77 555.98 629.72 556.9 C629.67 557.82 629.52 558.77 629.22 559.5 C628.92 560.23 628.14 561 627.92 561.3 L624.92 561.3 C624.7 561 623.92 560.23 623.62 559.5 C623.32 558.77 623.17 557.82 623.12 556.9 C623.07 555.98 623.3 554.85 623.32 554 C623.34 553.15 623.97 552.77 623.22 551.8 C622.47 550.83 619.65 549.53 618.82 548.2 C617.99 546.87 618.05 545.27 618.22 543.8 C618.39 542.33 619.75 540.62 619.82 539.4 C619.89 538.18 619.3 537.83 618.62 536.5 C617.94 535.17 615.6 533.1 615.72 531.4 C615.84 529.7 618.29 527.53 619.32 526.3 C620.35 525.07 621.14 524.73 621.92 524 C622.7 523.27 623.57 522.65 624.02 521.9 C624.47 521.15 624.52 520.23 624.62 519.5 C624.72 518.77 624.62 517.83 624.62 517.5 Z" fill="none" stroke="#ff7f1e" stroke-width="1.15" stroke-linejoin="round"/>
<line x1="616.35" y1="531.8" x2="636.49" y2="531.8" stroke="#ff7f1e" stroke-width="1" stroke-dasharray="1.1 2.3" stroke-dashoffset="-1.5"/>
<line x1="620.1" y1="539.1" x2="632.74" y2="539.1" stroke="#ff7f1e" stroke-width="1.2" stroke-dasharray="3 2"/>
<line x1="619.11" y1="547.4" x2="633.73" y2="547.4" stroke="#ff7f1e" stroke-width="1" stroke-dasharray="1.1 2.3" stroke-dashoffset="-1.5"/>
<path d="M662.5 505.5 C662.47 505.92 662.32 506.97 662.3 508 C662.28 509.03 662.27 510.7 662.4 511.7 C662.53 512.7 662.85 513.03 663.1 514 C663.35 514.97 663.47 516.5 663.9 517.5 C664.33 518.5 664.92 519.02 665.7 520 C666.48 520.98 667.63 521.92 668.6 523.4 C669.57 524.88 671.45 527.63 671.5 528.9 C671.55 530.17 669.7 530.22 668.9 531 C668.1 531.78 667.4 532.43 666.7 533.6 C666 534.77 665.15 536.55 664.7 538 C664.25 539.45 664.25 540.85 664 542.3 C663.75 543.75 663.37 545.58 663.2 546.7 C663.03 547.82 663.12 548.22 663 549 C662.88 549.78 662.58 551 662.5 551.4 L658.9 551.4 C658.82 551 658.52 549.78 658.4 549 C658.28 548.22 658.37 547.82 658.2 546.7 C658.03 545.58 657.65 543.75 657.4 542.3 C657.15 540.85 657.15 539.45 656.7 538 C656.25 536.55 655.4 534.77 654.7 533.6 C654 532.43 653.3 531.78 652.5 531 C651.7 530.22 649.85 530.17 649.9 528.9 C649.95 527.63 651.83 524.88 652.8 523.4 C653.77 521.92 654.92 520.98 655.7 520 C656.48 519.02 657.07 518.5 657.5 517.5 C657.93 516.5 658.05 514.97 658.3 514 C658.55 513.03 658.87 512.7 659 511.7 C659.13 510.7 659.12 509.03 659.1 508 C659.08 506.97 658.93 505.92 658.9 505.5 Z" fill="none" stroke="#111111" stroke-width="1.15" stroke-linejoin="round"/>
<line x1="653.88" y1="522.6" x2="667.52" y2="522.6" stroke="#111111" stroke-width="1" stroke-dasharray="1.1 2.3" stroke-dashoffset="-1.5"/>
<line x1="650.3" y1="528.9" x2="671.1" y2="528.9" stroke="#111111" stroke-width="1.2" stroke-dasharray="3 2"/>
<line x1="655.74" y1="535" x2="665.66" y2="535" stroke="#111111" stroke-width="1" stroke-dasharray="1.1 2.3" stroke-dashoffset="-1.5"/>
<text x="672.1" y="418.0" font-size="15.5" fill="#222">d</text>
</svg>
</body></html>
